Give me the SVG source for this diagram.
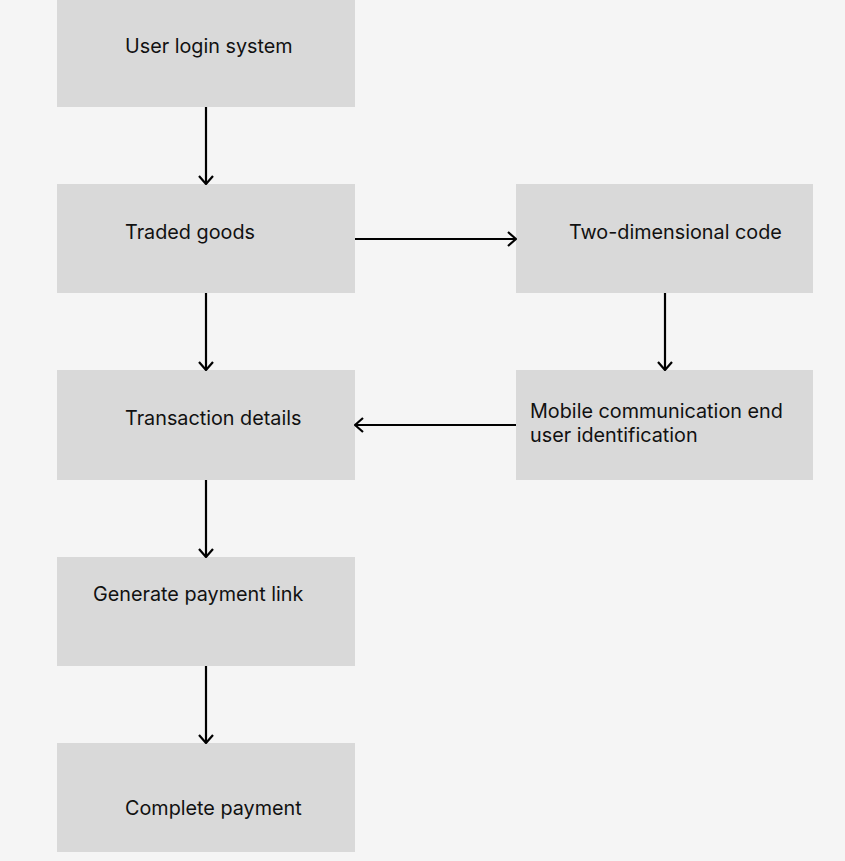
<svg xmlns="http://www.w3.org/2000/svg" width="845" height="861" viewBox="0 0 845 861">
<defs>
<style>
.box{fill:#d9d9d9;}
.t{font-family:Inter,"Noto Sans",sans-serif;font-size:19.8px;fill:#111;}
.c{stroke:#000;stroke-width:2.2;fill:none;}
</style>
<marker id="ah" viewBox="0 0 10 16" refX="9" refY="8" markerWidth="10" markerHeight="16" markerUnits="userSpaceOnUse" orient="auto">
<path d="M1,1 L9,8 L1,15" fill="none" stroke="#000" stroke-width="2.2"/>
</marker>
</defs>
<rect width="845" height="861" fill="#f5f5f5"/>
<g id="n1"><rect class="box" x="57" y="-3" width="298" height="110"/><text class="t" x="125" y="53">User login system</text></g>
<g id="n2"><rect class="box" x="57" y="184" width="298" height="109"/><text class="t" x="125" y="239">Traded goods</text></g>
<g id="n3"><rect class="box" x="516" y="184" width="297" height="109"/><text class="t" x="569" y="239">Two-dimensional code</text></g>
<g id="n4"><rect class="box" x="57" y="370" width="298" height="110"/><text class="t" x="125" y="425">Transaction details</text></g>
<g id="n5"><rect class="box" x="516" y="370" width="297" height="110"/><text class="t" x="530" y="418">Mobile communication end</text><text class="t" x="530" y="442">user identification</text></g>
<g id="n6"><rect class="box" x="57" y="557" width="298" height="109"/><text class="t" x="93" y="601">Generate payment link</text></g>
<g id="n7"><rect class="box" x="57" y="743" width="298" height="109"/><text class="t" x="125" y="815">Complete payment</text></g>
<g id="connectors">
<line class="c" x1="206" y1="107" x2="206" y2="184" marker-end="url(#ah)"/>
<line class="c" x1="355" y1="239" x2="516" y2="239" marker-end="url(#ah)"/>
<line class="c" x1="206" y1="293" x2="206" y2="370" marker-end="url(#ah)"/>
<line class="c" x1="665" y1="293" x2="665" y2="370" marker-end="url(#ah)"/>
<line class="c" x1="516" y1="425" x2="355" y2="425" marker-end="url(#ah)"/>
<line class="c" x1="206" y1="480" x2="206" y2="557" marker-end="url(#ah)"/>
<line class="c" x1="206" y1="666" x2="206" y2="743" marker-end="url(#ah)"/>
</g>
</svg>
